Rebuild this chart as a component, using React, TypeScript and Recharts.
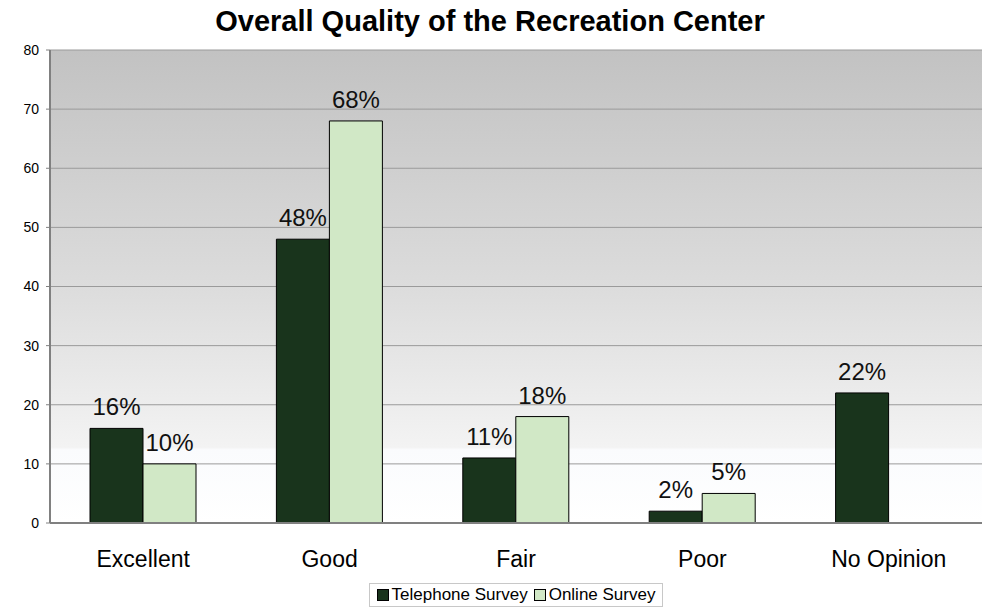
import React from 'react';
import {
  BarChart,
  Bar,
  XAxis,
  YAxis,
  CartesianGrid,
  LabelList,
  Legend,
} from 'recharts';

const categories = ['Excellent', 'Good', 'Fair', 'Poor', 'No Opinion'];
const telephoneSurvey = [16, 48, 11, 2, 22];
const onlineSurvey: (number | null)[] = [10, 68, 18, 5, null];
const yTicks = [0, 10, 20, 30, 40, 50, 60, 70, 80];
const boundaryTicks = [0, 1, 2, 3, 4, 5];

const data = categories.map((name, i) => ({
  name,
  telephone: telephoneSurvey[i],
  online: onlineSurvey[i],
}));

const font = '"Liberation Sans", Arial, sans-serif';

const pct = (v: any) => (v === null || v === undefined ? '' : `${v}%`);

const LegendBox = () => (
  <div
    style={{
      display: 'flex',
      alignItems: 'center',
      justifyContent: 'center',
      border: '1px solid #c8c8c8',
      width: 294,
      height: 24,
      margin: '0 auto',
      fontFamily: font,
      fontSize: 17,
      color: '#000',
      background: '#fff',
      boxSizing: 'border-box',
      whiteSpace: 'nowrap',
    }}
  >
    <span style={{ width: 10, height: 10, background: '#19341c', border: '1px solid #000', marginRight: 3 }} />
    <span style={{ marginRight: 6 }}>Telephone Survey</span>
    <span style={{ width: 10, height: 10, background: '#d1e8c6', border: '1px solid #000', marginRight: 3 }} />
    <span>Online Survey</span>
  </div>
);

const App: React.FC = () => {
  return (
    <div style={{ position: 'absolute', left: 0, top: 0, width: 1000, height: 608, background: '#fff' }}>
      <svg width={0} height={0} style={{ position: 'absolute' }}>
        <defs>
          <linearGradient id="plotBg" x1="0" y1="0" x2="0" y2="1">
            <stop offset="0" stopColor="#c2c2c2" />
            <stop offset="0.5" stopColor="#dcdcdc" />
            <stop offset="0.84" stopColor="#f3f3f3" />
            <stop offset="0.845" stopColor="#fafbfd" />
            <stop offset="1" stopColor="#ffffff" />
          </linearGradient>
        </defs>
      </svg>
      <div
        style={{
          position: 'absolute',
          top: 6,
          left: 0,
          width: 980,
          textAlign: 'center',
          fontFamily: font,
          fontWeight: 'bold',
          fontSize: 29,
          lineHeight: '30px',
          color: '#000',
          whiteSpace: 'nowrap',
        }}
      >
        Overall Quality of the Recreation Center
      </div>
      <BarChart
        width={1000}
        height={608}
        data={data}
        margin={{ top: 50, right: 18, left: 0, bottom: 0 }}
        barGap={0}
        barSize={53}
      >
        <CartesianGrid vertical={false} stroke="#9a9a9a" fill="url(#plotBg)" fillOpacity={1} />
        <XAxis
          xAxisId="bounds"
          type="number"
          domain={[0, 5]}
          ticks={boundaryTicks}
          interval={0}
          height={0}
          axisLine={false}
          tick={false}
          tickLine={{ stroke: '#b0b0b0' }}
          tickSize={6}
        />
        <XAxis
          dataKey="name"
          height={61}
          axisLine={{ stroke: '#808080', strokeWidth: 2 }}
          tickLine={false}
          tick={{ fontSize: 23, fill: '#000', fontFamily: font }}
          tickMargin={22}
        />
        <XAxis xAxisId="top" dataKey="name" orientation="top" height={0} tick={false} tickLine={false} axisLine={{ stroke: '#808080', strokeWidth: 2 }} />
        <YAxis
          width={50}
          domain={[0, 80]}
          ticks={yTicks}
          interval={0}
          axisLine={{ stroke: '#808080', strokeWidth: 2 }}
          tickLine={{ stroke: '#808080' }}
          tickSize={4}
          tickMargin={7}
          tick={{ fontSize: 14, fill: '#000', fontFamily: font }}
        />
        <YAxis yAxisId="right" orientation="right" width={0} tick={false} tickLine={false} axisLine={{ stroke: '#808080', strokeWidth: 2 }} />
        <Bar dataKey="telephone" name="Telephone Survey" fill="#19341c" stroke="#000" strokeWidth={1} isAnimationActive={false}>
          <LabelList dataKey="telephone" position="top" offset={13} formatter={pct} style={{ fontSize: 24, fill: '#111', fontFamily: font }} />
        </Bar>
        <Bar dataKey="online" name="Online Survey" fill="#d1e8c6" stroke="#000" strokeWidth={1} isAnimationActive={false}>
          <LabelList dataKey="online" position="top" offset={13} formatter={pct} style={{ fontSize: 24, fill: '#111', fontFamily: font }} />
        </Bar>
        <Legend verticalAlign="bottom" content={<LegendBox />} wrapperStyle={{ bottom: 1, left: 0, width: 1032 }} />
      </BarChart>
    </div>
  );
};

export default App;
